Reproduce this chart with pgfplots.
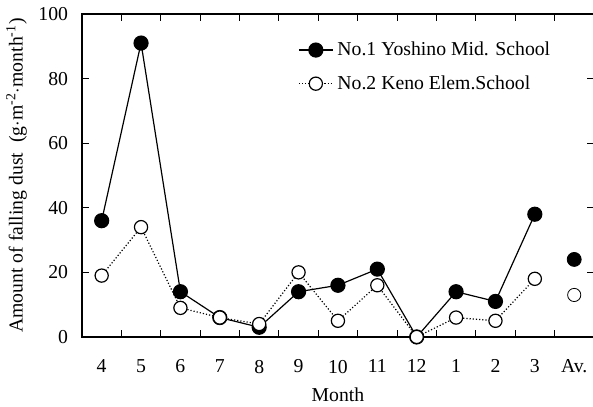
\documentclass[border=0pt]{standalone}
\usepackage{pgfplots}
\pgfplotsset{compat=1.18}
\usepackage{fontspec}
\setmainfont{Liberation Serif}
\begin{document}
\fontsize{9.9}{11.8}\selectfont
\begin{tikzpicture}
\begin{axis}[
  name=ax,
  scale only axis,
  width=256bp, height=161.5bp,
  xmin=-0.5, xmax=12.5,
  ymin=0, ymax=100,
  xtick={-0.5,0.5,...,12.5},
  x tick label as interval,
  xticklabels={4,5,6,7,8,9,10,11,12,1,2,3,Av.},
  ytick={0,20,...,100},
  tick align=inside,
  major tick length=3.5bp,
  tick style={black, line width=0.5pt},
  axis line style={line width=0.7pt},
  /pgf/number format/assume math mode=true,
  xlabel={Month},
  ylabel={Amount of falling dust\ \ (g$\cdot$m\textsuperscript{-2}$\cdot$month\textsuperscript{-1})},
  xlabel style={yshift=-0.5bp},
  ylabel style={yshift=-1bp},
  xticklabel style={yshift=-8bp},
  yticklabel style={xshift=-3.5bp},
  clip=false,
  legend style={at={(0.41,0.94)}, anchor=north west, draw=none, fill=none,
    row sep=4.5bp, font=\fontsize{9.9}{11.8}\selectfont},
  legend cell align=left,
]
\addplot[black, line width=0.6pt, mark=*, mark size=3.5bp, mark options={solid, fill=black}]
  coordinates {(0,36) (1,91) (2,14) (3,6) (4,3) (5,14) (6,16) (7,21) (8,0) (9,14) (10,11) (11,38)};
\addlegendentry{No.1 Yoshino Mid. School}
\addplot[black, line width=0.6pt, densely dotted, mark=*, mark size=3.3bp, mark options={solid, fill=white}]
  coordinates {(0,19) (1,34) (2,9) (3,6) (4,4) (5,20) (6,5) (7,16) (8,0) (9,6) (10,5) (11,18)};
\addlegendentry{No.2 Keno Elem.School}
\addplot[black, only marks, mark=*, mark size=3.5bp, mark options={fill=black}, forget plot]
  coordinates {(12,24)};
\addplot[black, only marks, mark=*, mark size=3.3bp, mark options={fill=white}, forget plot]
  coordinates {(12,13)};
\end{axis}
\pgfresetboundingbox
\path ([xshift=-41bp,yshift=-35bp]ax.south west) rectangle ([xshift=-0.45bp,yshift=7bp]ax.north east);
\end{tikzpicture}
\end{document}
